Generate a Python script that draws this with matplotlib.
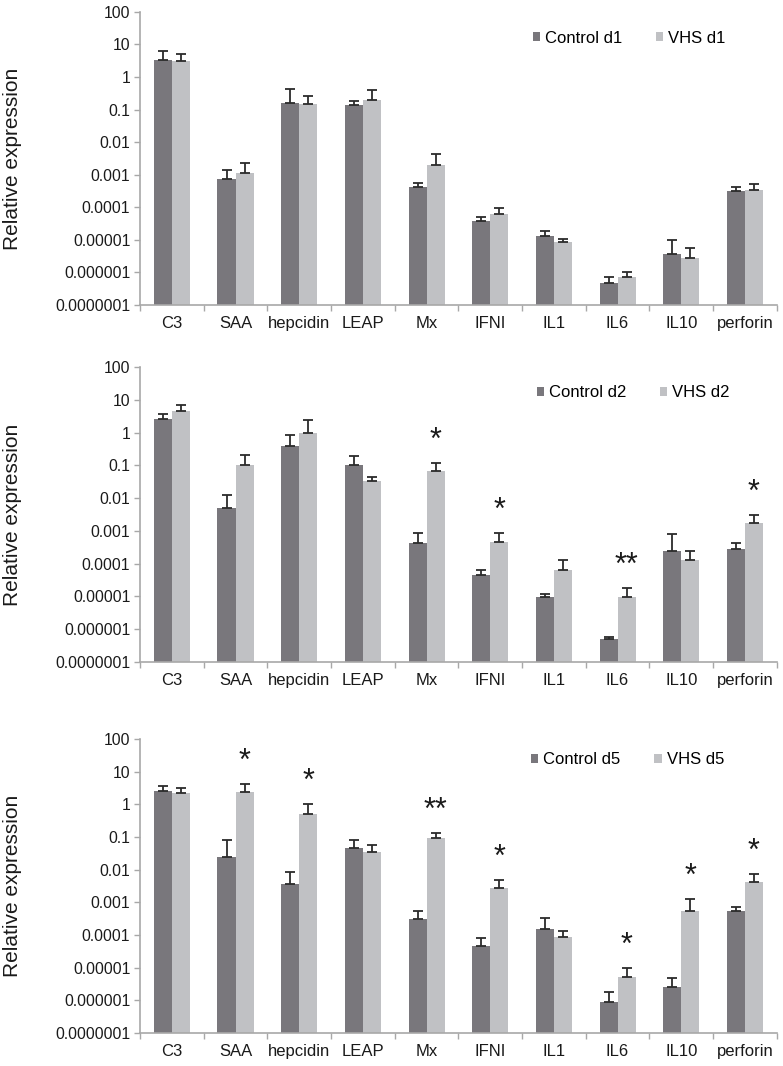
import numpy as np
import matplotlib
matplotlib.use("Agg")
import matplotlib.pyplot as plt

plt.rcParams["font.family"] = ["Liberation Sans", "DejaVu Sans"]

genes = ["C3", "SAA", "hepcidin", "LEAP", "Mx", "IFNI", "IL1", "IL6", "IL10", "perforin"]
ytick_vals = [100, 10, 1, 0.1, 0.01, 0.001, 0.0001, 0.00001, 0.000001, 0.0000001]
ytick_labels = ["100", "10", "1", "0.1", "0.01", "0.001", "0.0001",
                "0.00001", "0.000001", "0.0000001"]

# dag 1
ctrl_d1 = [3.3, 7.5e-4, 0.158, 0.134, 4.2e-4, 3.9e-5, 1.31e-5, 4.9e-7, 3.7e-6, 3.2e-4]
ctrl_d1_top = [6.1, 1.36e-3, 0.445, 0.19, 5.5e-4, 5.15e-5, 1.9e-5, 7.3e-7, 9.7e-6, 4.3e-4]
vhs_d1 = [3.07, 1.15e-3, 0.147, 0.195, 1.93e-3, 6.4e-5, 8.6e-6, 7.3e-7, 2.84e-6, 3.3e-4]
vhs_d1_top = [5.0, 2.3e-3, 0.265, 0.40, 4.4e-3, 9.3e-5, 1.1e-5, 1.06e-6, 5.75e-6, 5.2e-4]
stars_d1 = ["", "", "", "", "", "", "", "", "", ""]

# dag 2
ctrl_d2 = [2.6, 5.0e-3, 0.39, 0.105, 4.4e-4, 4.4e-5, 9.6e-6, 4.9e-7, 2.43e-4, 2.87e-4]
ctrl_d2_top = [3.7, 0.0127, 0.86, 0.197, 8.8e-4, 6.6e-5, 1.16e-5, 5.8e-7, 8.2e-4, 4.17e-4]
vhs_d2 = [4.66, 0.102, 0.97, 0.0325, 0.0656, 4.6e-4, 6.25e-5, 9.6e-6, 1.32e-4, 1.74e-3]
vhs_d2_top = [6.8, 0.211, 2.4, 0.043, 0.115, 8.8e-4, 1.29e-4, 1.8e-5, 2.38e-4, 3.1e-3]
stars_d2 = ["", "", "", "", "*", "*", "", "**", "", "*"]

# dag 5
ctrl_d5 = [2.55, 0.0248, 3.7e-3, 0.0468, 3.05e-4, 4.75e-5, 1.54e-4, 8.7e-7, 2.57e-6, 5.4e-4]
ctrl_d5_top = [3.63, 0.080, 8.2e-3, 0.082, 5.4e-4, 8.0e-5, 3.2e-4, 1.77e-6, 4.7e-6, 7.3e-4]
vhs_d5 = [2.16, 2.32, 0.515, 0.0344, 0.0925, 2.65e-3, 8.6e-5, 5.3e-6, 5.4e-4, 4.25e-3]
vhs_d5_top = [3.07, 4.18, 1.04, 0.0565, 0.135, 4.8e-3, 1.34e-4, 1.0e-5, 1.28e-3, 7.3e-3]
stars_d5 = ["", "*", "*", "", "**", "*", "", "*", "*", "*"]

DARK = "#79777c"
LIGHT = "#c0c1c4"
AXIS = "#a8a8a8"

panels = [
    (ctrl_d1, ctrl_d1_top, vhs_d1, vhs_d1_top, stars_d1, "Control d1", "VHS d1",
     [0.1788, 0.7139, 0.8132, 0.2749], (0.617, 0.911)),
    (ctrl_d2, ctrl_d2_top, vhs_d2, vhs_d2_top, stars_d2, "Control d2", "VHS d2",
     [0.1788, 0.3790, 0.8132, 0.2767], (0.623, 0.912)),
    (ctrl_d5, ctrl_d5_top, vhs_d5, vhs_d5_top, stars_d5, "Control d5", "VHS d5",
     [0.1788, 0.0310, 0.8132, 0.2758], (0.614, 0.929)),
]

fig = plt.figure(figsize=(7.83, 10.66), dpi=100)
x = np.arange(len(genes))
w = 0.283

for ctrl, ctrl_top, vhs, vhs_top, stars, lab1, lab2, rect, leg_pos in panels:
    ax = fig.add_axes(rect)
    ctrl = np.array(ctrl)
    vhs = np.array(vhs)
    ctrl_err = np.array(ctrl_top) - ctrl
    vhs_err = np.array(vhs_top) - vhs

    ekw = dict(ecolor="#2b2b2b", elinewidth=1.3, capthick=1.3)
    ax.bar(x - w / 2, ctrl, w, color=DARK, label=lab1,
           yerr=[np.zeros_like(ctrl), ctrl_err], capsize=3.6, error_kw=ekw)
    ax.bar(x + w / 2, vhs, w, color=LIGHT, label=lab2,
           yerr=[np.zeros_like(vhs), vhs_err], capsize=3.6, error_kw=ekw)

    # sterretjes boven de VHS-staven
    for i, s in enumerate(stars):
        if s:
            ax.text(x[i] + w / 2, vhs_top[i] * 10 ** 0.68, s, ha="center", va="center",
                    fontsize=22, color="#1a1a1a")

    ax.set_yscale("log")
    ax.set_ylim(1e-7, 100)
    ax.set_xlim(-0.5, len(genes) - 0.5)
    ax.set_yticks(ytick_vals)
    ax.set_yticklabels(ytick_labels)
    ax.yaxis.set_minor_locator(matplotlib.ticker.NullLocator())
    ax.set_xticks(x)
    ax.set_xticklabels(genes)
    ax.set_xticks(np.arange(-0.5, len(genes)), minor=True)
    ax.tick_params(axis="x", which="major", length=0, labelsize=12, pad=8, colors="#1a1a1a")
    ax.tick_params(axis="x", which="minor", length=4, color=AXIS, width=1)
    ax.tick_params(axis="y", length=4, color=AXIS, width=1, labelsize=11.3, pad=3,
                   labelcolor="#1a1a1a")

    for side in ["top", "right"]:
        ax.spines[side].set_visible(False)
    for side in ["left", "bottom"]:
        ax.spines[side].set_color(AXIS)
        ax.spines[side].set_linewidth(1.2)

    ax.set_ylabel("Relative expression", fontsize=15, color="#1a1a1a")
    ax.yaxis.set_label_coords(-0.185, 0.5)

    ax.legend(loc="center left", bbox_to_anchor=leg_pos, ncol=2, frameon=False,
              fontsize=12, handlelength=0.45, handleheight=0.45, handletextpad=0.3,
              columnspacing=2.0, borderpad=0, borderaxespad=0)

fig.savefig("out.png", dpi=100)
